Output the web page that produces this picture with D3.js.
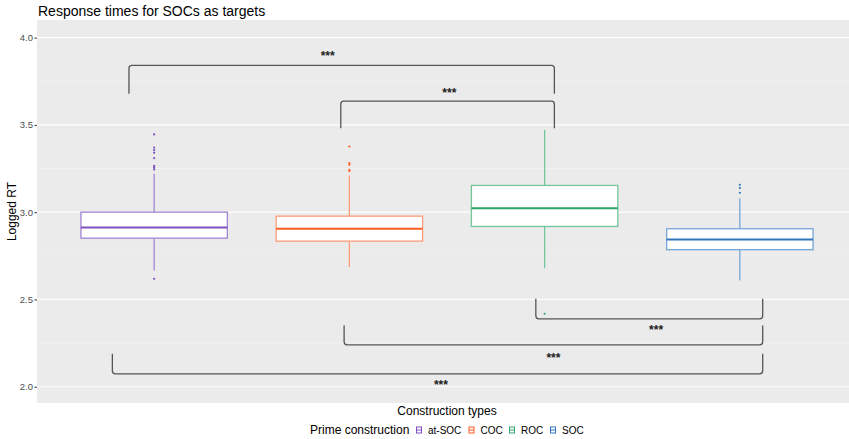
<!DOCTYPE html>
<html>
<head>
<meta charset="utf-8">
<script src="https://cdn.jsdelivr.net/npm/d3@7"></script>
<style>
  body { margin: 0; background: #fff; }
  text { font-family: "Liberation Sans", Arial, sans-serif; }
</style>
</head>
<body>
<svg id="vis" width="849" height="439"></svg>
<script>
// categories and box statistics (logged RT)
var categories = ["at-SOC", "COC", "ROC", "SOC"];
var colors = ["#7E4FC0", "#FF5A24", "#2EA56A", "#2E78BE"];
var lightColors = ["#A184D3", "#FF9B78", "#72C59A", "#74A5D8"];
var q1 = [2.851, 2.834, 2.918, 2.785];
var median = [2.912, 2.905, 3.023, 2.844];
var q3 = [3.0, 2.977, 3.153, 2.905];
var whiskerLow = [2.666, 2.685, 2.679, 2.609];
var whiskerHigh = [3.22, 3.21, 3.472, 3.08];
var outliers = [
    [2.618, 3.245, 3.255, 3.265, 3.31, 3.34, 3.355, 3.37, 3.445],
    [3.235, 3.243, 3.272, 3.281, 3.376],
    [2.418],
    [3.111, 3.138, 3.157]
];
var yTicks = [2.0, 2.5, 3.0, 3.5, 4.0];
var yMinor = [2.25, 2.75, 3.25, 3.75];

// significance brackets (x in category units, y in data units)
var bracketFrom = [0.871, 1.956, 2.955, 1.973, 0.786];
var bracketTo = [3.050, 3.050, 4.117, 4.117, 4.117];
var bracketBar = [3.841, 3.636, 2.389, 2.240, 2.074];
var bracketEnd = [3.678, 3.480, 2.504, 2.351, 2.189];
var bracketLabel = ["***", "***", "***", "***", "***"];
var bracketLabelX = [1.889, 2.512, 3.571, 3.045, 2.469];
var bracketLabelY = [3.913, 3.700, 2.341, 2.185, 2.030];

var panel = { left: 37, right: 857, top: 20, bottom: 403 };
var svg = d3.select("#vis");

var x = d3.scaleLinear().domain([0.4, 4.6]).range([panel.left, panel.right]);
var y = d3.scaleLinear().domain([1.9066, 4.1008]).range([panel.bottom, panel.top]);
var boxWidth = 0.75;

// panel background + grid
svg.append("rect")
    .attr("x", panel.left).attr("y", panel.top)
    .attr("width", panel.right - panel.left).attr("height", panel.bottom - panel.top)
    .attr("fill", "#EBEBEB");

svg.selectAll(".minor").data(yMinor).enter().append("line")
    .attr("x1", panel.left).attr("x2", panel.right)
    .attr("y1", function (d) { return y(d); }).attr("y2", function (d) { return y(d); })
    .attr("stroke", "#F5F5F5").attr("stroke-width", 0.6);

svg.selectAll(".major").data(yTicks).enter().append("line")
    .attr("x1", panel.left).attr("x2", panel.right)
    .attr("y1", function (d) { return y(d); }).attr("y2", function (d) { return y(d); })
    .attr("stroke", "#FFFFFF").attr("stroke-width", 1.1);

// y axis
var yAxis = svg.append("g")
    .attr("transform", "translate(" + panel.left + ",0)")
    .call(d3.axisLeft(y).tickValues(yTicks).tickFormat(d3.format(".1f")).tickSize(2.5).tickPadding(1.5));
yAxis.select(".domain").remove();
yAxis.selectAll(".tick line").attr("stroke", "#333");
yAxis.selectAll(".tick text")
    .attr("fill", "#4D4D4D")
    .style("font-size", "9.5px")
    .style("font-family", "'Liberation Sans', Arial, sans-serif");

// boxes
var box = svg.selectAll(".box").data(categories).enter().append("g").attr("class", "box");

box.append("line")
    .attr("x1", function (d, i) { return x(i + 1); }).attr("x2", function (d, i) { return x(i + 1); })
    .attr("y1", function (d, i) { return y(q3[i]); }).attr("y2", function (d, i) { return y(whiskerHigh[i]); })
    .attr("stroke", function (d, i) { return lightColors[i]; }).attr("stroke-width", 1.3);
box.append("line")
    .attr("x1", function (d, i) { return x(i + 1); }).attr("x2", function (d, i) { return x(i + 1); })
    .attr("y1", function (d, i) { return y(q1[i]); }).attr("y2", function (d, i) { return y(whiskerLow[i]); })
    .attr("stroke", function (d, i) { return lightColors[i]; }).attr("stroke-width", 1.3);

box.append("rect")
    .attr("x", function (d, i) { return x(i + 1 - boxWidth / 2); })
    .attr("width", function (d, i) { return x(i + 1 + boxWidth / 2) - x(i + 1 - boxWidth / 2); })
    .attr("y", function (d, i) { return y(q3[i]); })
    .attr("height", function (d, i) { return y(q1[i]) - y(q3[i]); })
    .attr("fill", "#FFFFFF")
    .attr("stroke", function (d, i) { return lightColors[i]; }).attr("stroke-width", 1.3);

box.append("line")
    .attr("x1", function (d, i) { return x(i + 1 - boxWidth / 2); })
    .attr("x2", function (d, i) { return x(i + 1 + boxWidth / 2); })
    .attr("y1", function (d, i) { return y(median[i]); }).attr("y2", function (d, i) { return y(median[i]); })
    .attr("stroke", function (d, i) { return colors[i]; }).attr("stroke-width", 2);

box.selectAll("circle")
    .data(function (d, i) { return outliers[i].map(function (v) { return { i: i, v: v }; }); })
    .enter().append("circle")
    .attr("cx", function (d) { return x(d.i + 1); })
    .attr("cy", function (d) { return y(d.v); })
    .attr("r", 1.1)
    .attr("fill", function (d) { return colors[d.i]; });

// brackets
function bracketPath(i) {
    var xa = x(bracketFrom[i]), xb = x(bracketTo[i]);
    var yb = y(bracketBar[i]), ye = y(bracketEnd[i]);
    var r = 3, dir = ye > yb ? 1 : -1;
    return "M" + xa + "," + ye +
        "L" + xa + "," + (yb + dir * r) +
        "Q" + xa + "," + yb + " " + (xa + r) + "," + yb +
        "L" + (xb - r) + "," + yb +
        "Q" + xb + "," + yb + " " + xb + "," + (yb + dir * r) +
        "L" + xb + "," + ye;
}

svg.selectAll(".bracket").data(bracketLabel).enter().append("path")
    .attr("d", function (d, i) { return bracketPath(i); })
    .attr("fill", "none").attr("stroke", "#555").attr("stroke-width", 1.3);

svg.selectAll(".sig").data(bracketLabel).enter().append("text")
    .attr("x", function (d, i) { return x(bracketLabelX[i]); })
    .attr("y", function (d, i) { return y(bracketLabelY[i]); })
    .attr("dy", "0.6em")
    .attr("text-anchor", "middle")
    .style("font-size", "12px").style("font-weight", "bold")
    .attr("fill", "#222")
    .text(function (d) { return d; });

// titles
svg.append("text")
    .attr("x", 38).attr("y", 16)
    .style("font-size", "14px").attr("fill", "#000")
    .text("Response times for SOCs as targets");

svg.append("text")
    .attr("transform", "translate(16," + ((panel.top + panel.bottom) / 2) + ") rotate(-90)")
    .attr("text-anchor", "middle")
    .style("font-size", "12px").attr("fill", "#000")
    .text("Logged RT");

svg.append("text")
    .attr("x", (panel.left + panel.right) / 2).attr("y", 415)
    .attr("text-anchor", "middle")
    .style("font-size", "12px").attr("fill", "#000")
    .text("Construction types");

// legend
var legendY = 430;
svg.append("text")
    .attr("x", 310).attr("y", legendY + 4)
    .style("font-size", "12px").attr("fill", "#000")
    .text("Prime construction");

var keyX = [416, 468.5, 509, 550];
var legend = svg.selectAll(".legend").data(categories).enter().append("g")
    .attr("class", "legend")
    .attr("transform", function (d, i) { return "translate(" + keyX[i] + "," + (legendY - 3.5) + ")"; });

legend.append("rect")
    .attr("x", 0.5).attr("y", 0.5).attr("width", 5).attr("height", 6)
    .attr("fill", "#fff")
    .attr("stroke", function (d, i) { return colors[i]; }).attr("stroke-width", 1);
legend.append("line")
    .attr("x1", 0.5).attr("x2", 5.5).attr("y1", 3.5).attr("y2", 3.5)
    .attr("stroke", function (d, i) { return colors[i]; }).attr("stroke-width", 1);

legend.append("text")
    .attr("x", 12).attr("y", 7.5)
    .style("font-size", "10px").attr("fill", "#000")
    .text(function (d) { return d; });
</script>
</body>
</html>
